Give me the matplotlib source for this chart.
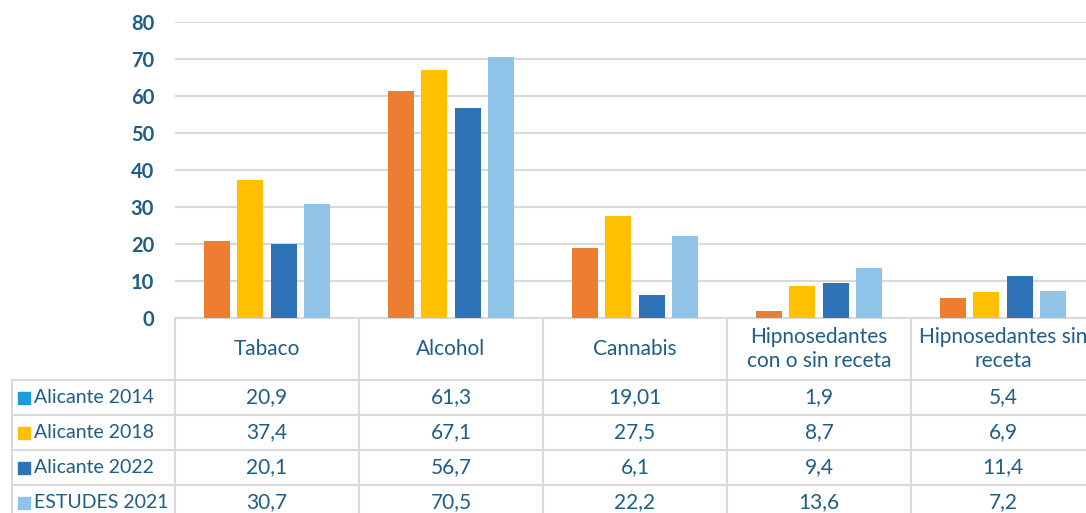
import numpy as np
import matplotlib.pyplot as plt

plt.rcParams['font.family'] = ['Lato', 'DejaVu Sans']

categorias = ['Tabaco', 'Alcohol', 'Cannabis', 'Hipnosedantes\ncon o sin receta', 'Hipnosedantes sin\nreceta']
series = ['Alicante 2014', 'Alicante 2018', 'Alicante 2022', 'ESTUDES 2021']
alicante_2014 = [20.9, 61.3, 19.01, 1.9, 5.4]
alicante_2018 = [37.4, 67.1, 27.5, 8.7, 6.9]
alicante_2022 = [20.1, 56.7, 6.1, 9.4, 11.4]
estudes_2021 = [30.7, 70.5, 22.2, 13.6, 7.2]
valores = [alicante_2014, alicante_2018, alicante_2022, estudes_2021]

colores_barras = ['#ED7D31', '#FFC000', '#2E72B8', '#8FC3E8']
colores_leyenda = ['#1F9BD7', '#FFC000', '#2E72B8', '#8FC3E8']
texto = '#1E5D85'
gris = '#D9D9D9'

W, H = 1086, 513
fig = plt.figure(figsize=(W / 100, H / 100), dpi=100)
ax = fig.add_axes([175 / W, 195 / H, 920 / W, 296 / H])

x = np.arange(len(categorias))
paso, ancho = 0.182, 0.142
for i, (vals, col) in enumerate(zip(valores, colores_barras)):
    ax.bar(x + (i - 1.5) * paso, vals, ancho, color=col, zorder=3)

ax.set_xlim(-0.5, 4.5)
ax.set_ylim(0, 80)
ax.set_yticks(range(0, 81, 10))
ax.set_xticks([])
ax.yaxis.grid(True, color=gris, lw=1.5)
ax.set_axisbelow(True)
for s in ['top', 'right', 'left']:
    ax.spines[s].set_visible(False)
ax.spines['bottom'].set_color(gris)
ax.spines['bottom'].set_linewidth(1.5)
ax.tick_params(axis='y', length=0, pad=15, labelsize=14.5, labelcolor=texto)
for lab in ax.get_yticklabels():
    lab.set_fontweight('bold')

# tabla de datos (eje y en pixeles)
tab = fig.add_axes([175 / W, 0, 920 / W, 195 / H], sharex=ax)
tab.set_ylim(195, 0)
tab.axis('off')
px = 920 / 5  # pixeles por categoria
x_izq = -0.5 - (175 - 12) / px
cab = 62
fila = 35
for k in range(5):
    yl = cab + k * fila
    tab.plot([x_izq, 4.5], [yl, yl], color=gris, lw=1.5, clip_on=False)
for xv in np.arange(-0.5, 5, 1):
    tab.plot([xv, xv], [0, 195], color=gris, lw=1.5, clip_on=False)
tab.plot([x_izq, x_izq], [cab, 195], color=gris, lw=1.5, clip_on=False)

fs = 15
for i, c in enumerate(categorias):
    tab.text(i, cab / 2, c, ha='center', va='center', fontsize=fs, color=texto, linespacing=1.25)

for j, (nombre, vals) in enumerate(zip(series, valores)):
    yc = cab + fila * (j + 0.5)
    tab.scatter([-0.5 - (175 - 24) / px], [yc], marker='s', s=85, color=colores_leyenda[j], clip_on=False)
    tab.text(-0.5 - (175 - 34) / px, yc, nombre, ha='left', va='center', fontsize=14, color=texto)
    for i, v in enumerate(vals):
        tab.text(i, yc, str(v).replace('.', ','), ha='center', va='center', fontsize=fs, color=texto)

fig.savefig('out.png', dpi=100)
